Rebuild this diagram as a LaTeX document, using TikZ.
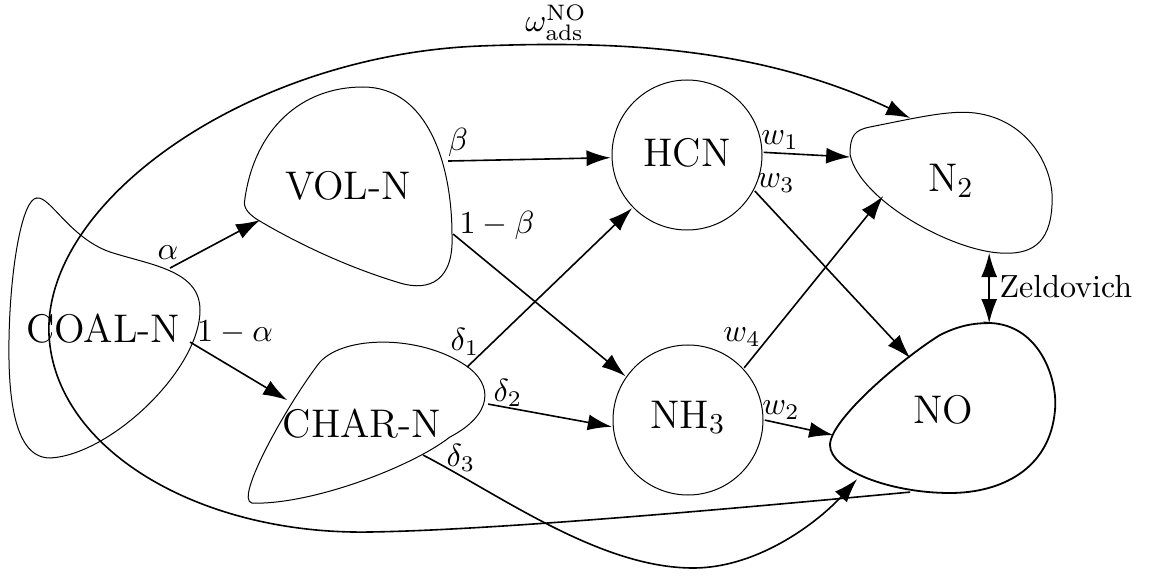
\documentclass[tikz,border=0pt]{standalone}
\usetikzlibrary{arrows.meta}
\begin{document}
\begin{tikzpicture}[x=0.3125pt,y=-0.3125pt,scale=3.2,
  every node/.append style={transform shape},
  blob/.style={draw, line width=1pt},
  thickblob/.style={draw, line width=1.8pt},
  nodetext/.style={font=\fontsize{12.5}{15}\selectfont, anchor=base, inner sep=0pt},
  lab/.style={font=\normalsize, inner sep=0pt},
  conn/.style={line width=1.6pt, -{Latex[length=24pt,width=16pt]}},
  circ/.style={circle, draw, line width=1pt, minimum size=46.875pt, inner sep=0pt}
]
\useasboundingbox (0,0) rectangle (1149,577);

% ---------- blobs ----------
% COAL-N
\draw[blob] (37,198) .. controls (50,196) and (70,238) .. (110,252)
  .. controls (150,265) and (200,270) .. (200,310)
  .. controls (200,370) and (110,455) .. (50,458)
  .. controls (15,458) and (8,400) .. (9,340)
  .. controls (10,270) and (22,198) .. cycle;
% VOL-N
\draw[blob] (245,198) .. controls (255,130) and (300,87) .. (363,87)
  .. controls (428,87) and (452,165) .. (452,235)
  .. controls (454,280) and (430,292) .. (400,283)
  .. controls (350,268) and (300,245) .. (258,220)
  .. controls (245,212) and (243,205) .. cycle;
% CHAR-N
\draw[blob] (252,503) .. controls (233,500) and (290,400) .. (320,362)
  .. controls (345,335) and (420,335) .. (465,365)
  .. controls (495,385) and (492,415) .. (450,437)
  .. controls (410,468) and (310,505) .. cycle;
% N2
\draw[blob] (850,155) .. controls (850,135) and (855,130) .. (870,127)
  .. controls (920,117) and (950,110) .. (975,113)
  .. controls (1030,120) and (1055,170) .. (1052,205)
  .. controls (1050,245) and (1030,255) .. (1000,253)
  .. controls (950,250) and (860,200) .. cycle;
% NO
\draw[thickblob] (990,323) .. controls (1040,325) and (1058,380) .. (1055,410)
  .. controls (1050,470) and (1000,493) .. (950,493)
  .. controls (890,493) and (830,470) .. (830,445)
  .. controls (830,420) and (900,360) .. (940,335)
  .. controls (960,325) and (975,323) .. cycle;

% ---------- node texts ----------
\node[nodetext] (coal) at (103,343) {COAL-N};
\node[nodetext] (vol)  at (348,200) {VOL-N};
\node[nodetext] (char) at (362,437) {CHAR-N};
\node[nodetext] (n2)   at (951,192) {N$_2$};
\node[nodetext] (no)   at (943,423) {NO};
\node[circ] (hcn) at (687,155) {};
\node[circ] (nh3) at (688,420) {};
\node[nodetext] (hcntxt) at (687,167) {HCN};
\node[nodetext] (nh3txt) at (688,428) {NH$_3$};

% ---------- connection points on blobs ----------
\coordinate (coal-a) at (170,268);
\coordinate (coal-b) at (190,342);
\coordinate (vol-in) at (260,220);
\coordinate (vol-b)  at (448,161);
\coordinate (vol-c)  at (453,234);
\coordinate (char-in) at (287,400);
\coordinate (char-d1) at (467,367);
\coordinate (char-d2) at (488,404);
\coordinate (char-d3) at (423,455);
\coordinate (n2-w1) at (850,157);
\coordinate (n2-w4) at (883,196);
\coordinate (n2-top) at (910,118);
\coordinate (n2-z) at (989,253);
\coordinate (no-z) at (989,323);
\coordinate (no-w3) at (910,358);
\coordinate (no-w2) at (833,435);
\coordinate (no-d3) at (857,479);
\coordinate (no-loop) at (910,492);

% ---------- connectors ----------
\draw[conn] (coal-a) -- (vol-in);
\draw[conn] (coal-b) -- (char-in);
\draw[conn] (vol-b) -- (hcn.182);
\draw[conn] (vol-c) -- (nh3.145);
\draw[conn] (char-d1) -- (hcn.224);
\draw[conn] (char-d2) -- (nh3.185);
\draw[conn] (hcn.2) -- (n2-w1);
\draw[conn] (hcn.-28) -- (no-w3);
\draw[conn] (nh3.43) -- (n2-w4);
\draw[conn] (nh3.0) -- (no-w2);
\draw[line width=1.6pt, {Latex[length=24pt,width=16pt]}-{Latex[length=24pt,width=16pt]}] (n2-z) -- (no-z);
\draw[conn] (char-d3) .. controls (500,495) and (600,568) .. (693,568)
  .. controls (760,568) and (820,520) .. (no-d3);
\draw[conn] (no-loop) .. controls (750,507) and (500,530) .. (370,532)
  .. controls (200,535) and (55,450) .. (49,335)
  .. controls (43,200) and (250,55) .. (480,46)
  .. controls (620,40.5) and (760,47.5) .. (n2-top);

% ---------- labels ----------
\node[lab] (l-a)  at (168,253) {$\alpha$};
\node[lab] (l-1a) at (235,333) {$1-\alpha$};
\node[lab] (l-b)  at (458,143) {$\beta$};
\node[lab] (l-1b) at (497,226) {$1-\beta$};
\node[lab] (l-d1) at (465,342) {$\delta_1$};
\node[lab] (l-d2) at (508,393) {$\delta_2$};
\node[lab] (l-d3) at (461,458) {$\delta_3$};
\node[lab] (l-w1) at (780,140) {$w_1$};
\node[lab] (l-w3) at (776,183) {$w_3$};
\node[lab] (l-w4) at (742,337) {$w_4$};
\node[lab] (l-w2) at (781,410) {$w_2$};
\node[lab] (l-om) at (556,23) {$\omega_{\mathrm{ads}}^{\mathrm{NO}}$};
\node[lab, anchor=west] (l-z) at (999,287) {Zeldovich};
\end{tikzpicture}
\end{document}
